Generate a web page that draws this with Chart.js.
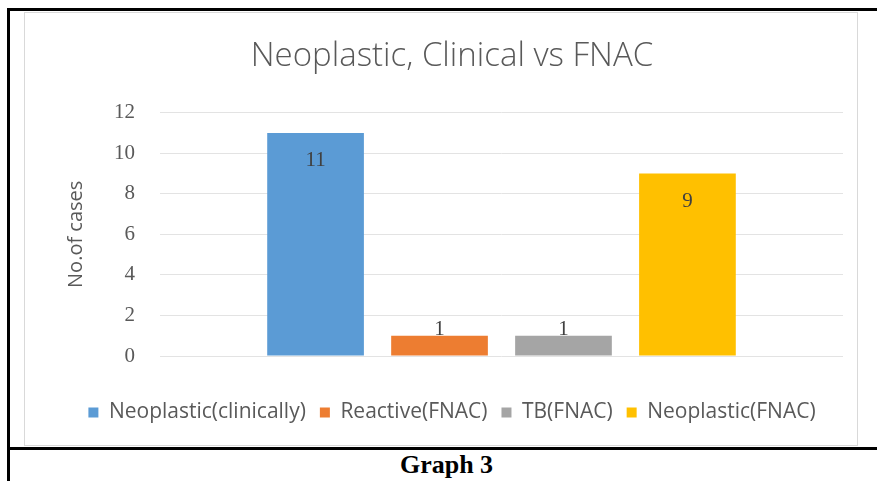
<!DOCTYPE html>
<html lang="en">
<head>
    <meta charset="UTF-8" />
    <title>Graph 3</title>
    <style>
        body {
            margin: 0;
            background-color: #fff;
            width: 877px;
            height: 481px;
            overflow: hidden;
            position: relative;
        }
        .frame {
            position: absolute;
            left: 7px;
            top: 8px;
            width: 880px;
            height: 500px;
            border-left: 3px solid #000;
            border-top: 3px solid #000;
            box-sizing: border-box;
        }
        .divider {
            position: absolute;
            left: 7px;
            top: 447px;
            width: 880px;
            height: 3px;
            background: #000;
        }
        .chart-box {
            position: absolute;
            left: 24px;
            top: 12px;
            width: 834px;
            height: 434px;
            border: 1px solid #d9d9d9;
            box-sizing: border-box;
        }
        .caption {
            position: absolute;
            left: 8px;
            width: 877px;
            top: 450px;
            text-align: center;
            font-family: 'Liberation Serif', serif;
            font-weight: bold;
            font-size: 26px;
            line-height: 30px;
        }
    </style>
    <script src="https://cdn.jsdelivr.net/npm/chart.js"></script>
</head>
<body>
    <div class="frame"></div>
    <div class="chart-box">
        <canvas id="graph3" width="832" height="432"></canvas>
    </div>
    <div class="divider"></div>
    <div class="caption">Graph 3</div>

    <script>
        // chart data
        const categories = [''];
        const seriesNames = ['Neoplastic(clinically)', 'Reactive(FNAC)', 'TB(FNAC)', 'Neoplastic(FNAC)'];
        const seriesValues = [[11], [1], [1], [9]];
        const seriesColors = ['#5b9bd5', '#ed7d31', '#a5a5a5', '#ffc000'];
        const yTicks = [0, 2, 4, 6, 8, 10, 12];

        // value labels on the bars, Excel style
        const barLabels = {
            id: 'barLabels',
            afterDatasetsDraw(chart) {
                const ctx = chart.ctx;
                ctx.save();
                ctx.font = '21px "Liberation Serif", serif';
                ctx.fillStyle = '#404040';
                ctx.textAlign = 'center';
                ctx.textBaseline = 'middle';
                chart.data.datasets.forEach((ds, i) => {
                    chart.getDatasetMeta(i).data.forEach((bar, j) => {
                        const y = Math.min(bar.y + 28, bar.base - 26);
                        ctx.fillText(String(ds.data[j]), bar.x, y);
                    });
                });
                ctx.restore();
            }
        };

        const ctx = document.getElementById('graph3').getContext('2d');
        new Chart(ctx, {
            type: 'bar',
            data: {
                labels: categories,
                datasets: seriesNames.map((name, i) => ({
                    label: name,
                    data: seriesValues[i],
                    backgroundColor: seriesColors[i],
                    categoryPercentage: 0.726,
                    barPercentage: 0.78
                }))
            },
            options: {
                responsive: false,
                animation: false,
                layout: {
                    padding: { left: 36, right: 14, top: 0, bottom: 12 }
                },
                scales: {
                    x: {
                        grid: { display: false },
                        border: { display: false },
                        ticks: { display: false },
                        afterFit(scale) { scale.height = 32; }
                    },
                    y: {
                        min: 0,
                        max: 12,
                        afterBuildTicks(scale) {
                            scale.ticks = yTicks.map(v => ({ value: v }));
                        },
                        afterFit(scale) { scale.width = 99; },
                        grid: { color: '#e3e3e3', drawTicks: false },
                        border: { display: false },
                        ticks: {
                            padding: 25,
                            color: '#595959',
                            font: { family: '"Liberation Serif", serif', size: 21 }
                        },
                        title: {
                            display: true,
                            text: 'No.of cases',
                            color: '#595959',
                            padding: { top: 3, bottom: 0 },
                            font: { family: '"Open Sans", sans-serif', size: 20 }
                        }
                    }
                },
                plugins: {
                    title: {
                        display: true,
                        text: 'Neoplastic, Clinical vs FNAC',
                        color: '#595959',
                        padding: { top: 24, bottom: 36 },
                        font: { family: '"Open Sans", sans-serif', size: 33, weight: '300' }
                    },
                    legend: {
                        position: 'bottom',
                        labels: {
                            color: '#595959',
                            boxWidth: 10,
                            boxHeight: 10,
                            padding: 14,
                            font: { family: '"Open Sans", sans-serif', size: 21 }
                        }
                    },
                    tooltip: { enabled: false }
                }
            },
            plugins: [barLabels]
        });
    </script>
</body>
</html>
